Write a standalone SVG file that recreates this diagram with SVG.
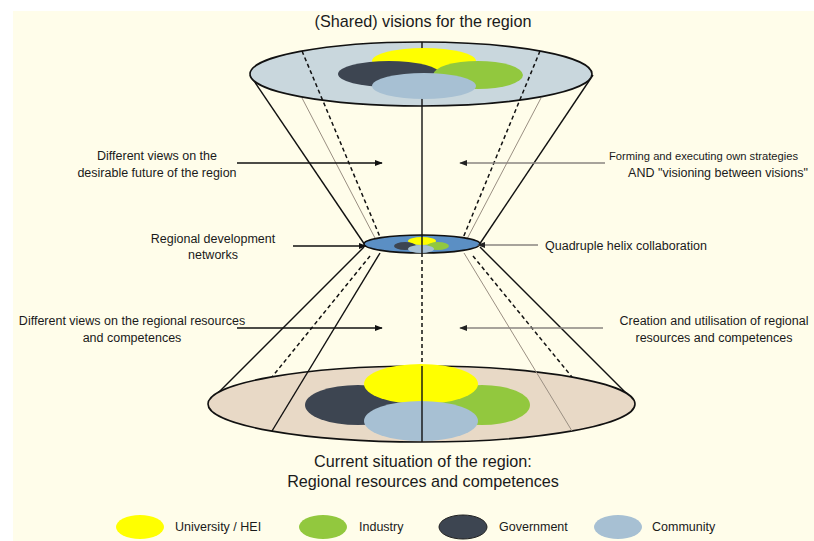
<svg xmlns="http://www.w3.org/2000/svg" width="814" height="541" viewBox="0 0 814 541">
  <defs>
    <marker id="headDark" viewBox="0 0 10 10" refX="9" refY="5" markerWidth="8" markerHeight="8" markerUnits="userSpaceOnUse" orient="auto">
      <path d="M0,1 L10,5 L0,9 Z" fill="#111"/>
    </marker>
    <marker id="headGray" viewBox="0 0 10 10" refX="9" refY="5" markerWidth="8" markerHeight="8" markerUnits="userSpaceOnUse" orient="auto">
      <path d="M0,1 L10,5 L0,9 Z" fill="#222"/>
    </marker>
    <style>
      .lbl { font-family: "Liberation Sans", Arial, sans-serif; font-size: 12.5px; fill: #1a1a1a; }
      .big { font-family: "Liberation Sans", Arial, sans-serif; font-size: 16.2px; fill: #1a1a1a; }
      .edge { stroke: #111; stroke-width: 1.4; fill: none; }
      .thin { stroke: #9a8f82; stroke-width: 1; fill: none; }
      .dash { stroke: #111; stroke-width: 1.5; stroke-dasharray: 4 3; fill: none; }
      .rim { stroke: #111; stroke-width: 1.6; }
      .uni { fill: #ffff00; }
      .ind { fill: #92c83e; }
      .gov { fill: #3d4551; }
      .com { fill: #a7c0d3; }
      .arrowDark { stroke: #111; stroke-width: 1.5; marker-end: url(#headDark); }
      .arrowGray { stroke: #8a8580; stroke-width: 1.5; marker-end: url(#headGray); }
    </style>
  </defs>

  <!-- page -->
  <rect x="0" y="0" width="814" height="541" fill="#ffffff"/>
  <rect x="13" y="11" width="801" height="530" fill="#fffdea"/>

  <text class="big" x="423" y="27" text-anchor="middle">(Shared) visions for the region</text>

  <!-- cone walls -->
  <g id="connectors">
    <!-- upper cone -->
    <line class="edge" x1="250" y1="75" x2="365" y2="245"/>
    <line class="edge" x1="593" y1="75" x2="479" y2="245"/>
    <line class="thin" x1="302" y1="98" x2="375" y2="238"/>
    <line class="thin" x1="541" y1="98" x2="467" y2="239"/>
    <!-- lower cone -->
    <line class="edge" x1="364" y1="247" x2="210" y2="401"/>
    <line class="edge" x1="480" y1="247" x2="634" y2="401"/>
    <line class="dash" x1="370" y1="256" x2="272" y2="377"/>
    <line class="dash" x1="473" y1="256" x2="572" y2="377"/>
    <!-- central axis, lower cone -->
    <line class="dash" x1="422" y1="253" x2="422" y2="366"/>
  </g>

  <!-- top: shared visions -->
  <g id="top-disc">
    <ellipse cx="421" cy="74" rx="171" ry="32" fill="#c9d7dd" class="rim"/>
    <line class="edge" x1="422" y1="42" x2="422" y2="236"/>
    <line class="dash" x1="302" y1="51" x2="380" y2="237"/>
    <line class="dash" x1="540" y1="51" x2="463" y2="238"/>
    <ellipse class="uni" cx="424" cy="61" rx="52" ry="13"/>
    <ellipse class="gov" cx="389" cy="74" rx="51" ry="13"/>
    <ellipse class="ind" cx="478" cy="75" rx="45" ry="14"/>
    <ellipse class="com" cx="424" cy="86" rx="52" ry="13"/>
  </g>

  <!-- bottom: current situation -->
  <g id="bottom-disc">
    <ellipse cx="421.5" cy="404" rx="213.5" ry="38" fill="#e8d9c6" class="rim"/>
    <ellipse class="gov" cx="358" cy="405" rx="53" ry="20"/>
    <ellipse class="ind" cx="482" cy="405" rx="48" ry="20"/>
    <ellipse class="uni" cx="421" cy="384" rx="57" ry="20"/>
    <ellipse class="com" cx="421" cy="421" rx="57" ry="20"/>
    <line class="edge" x1="380" y1="253" x2="272" y2="431"/>
    <line class="thin" x1="464" y1="253" x2="572" y2="431"/>
    <line class="edge" x1="422" y1="366" x2="422" y2="442"/>
  </g>

  <!-- waist: quadruple helix -->
  <g id="waist-disc">
    <ellipse cx="422" cy="244" rx="58" ry="9" fill="#5b8fc4" class="rim"/>
    <ellipse class="uni" cx="422" cy="241" rx="14" ry="4"/>
    <ellipse class="gov" cx="405" cy="246" rx="11" ry="4"/>
    <ellipse class="ind" cx="438" cy="246" rx="11" ry="4"/>
    <ellipse class="com" cx="421" cy="249" rx="13" ry="4"/>
    <line class="edge" x1="422" y1="235" x2="422" y2="253"/>
  </g>

  <!-- side annotations -->
  <g id="label-future">
    <text class="lbl" x="157" y="160" text-anchor="middle">Different views on the</text>
    <text class="lbl" x="157" y="177" text-anchor="middle">desirable future of the region</text>
    <line class="arrowDark" x1="237" y1="163" x2="382" y2="163"/>
  </g>
  <g id="label-strategies">
    <text class="lbl" x="609" y="160" style="font-size:11.2px">Forming and executing own strategies</text>
    <text class="lbl" x="718" y="177" text-anchor="middle">AND "visioning between visions"</text>
    <line class="arrowGray" x1="605" y1="163" x2="460" y2="163"/>
  </g>
  <g id="label-networks">
    <text class="lbl" x="213" y="243" text-anchor="middle">Regional development</text>
    <text class="lbl" x="213" y="259" text-anchor="middle">networks</text>
    <line class="arrowDark" x1="293" y1="246" x2="366" y2="246"/>
  </g>
  <g id="label-helix">
    <text class="lbl" x="545" y="250">Quadruple helix collaboration</text>
    <line class="arrowGray" x1="538" y1="245" x2="478" y2="245"/>
  </g>
  <g id="label-resources">
    <text class="lbl" x="132" y="325" text-anchor="middle">Different views on the regional resources</text>
    <text class="lbl" x="132" y="342" text-anchor="middle">and competences</text>
    <line class="arrowDark" x1="237" y1="328" x2="382" y2="328"/>
  </g>
  <g id="label-creation">
    <text class="lbl" x="714" y="325" text-anchor="middle">Creation and utilisation of regional</text>
    <text class="lbl" x="714" y="342" text-anchor="middle">resources and competences</text>
    <line class="arrowGray" x1="603" y1="328" x2="460" y2="328"/>
  </g>

  <text class="big" x="423" y="467" text-anchor="middle">Current situation of the region:</text>
  <text class="big" x="423" y="487" text-anchor="middle">Regional resources and competences</text>

  <!-- legend -->
  <g id="legend">
    <ellipse class="uni" cx="140" cy="527" rx="24" ry="12"/>
    <text class="lbl" x="175" y="531">University / HEI</text>
    <ellipse class="ind" cx="323" cy="527" rx="24" ry="12"/>
    <text class="lbl" x="359" y="531">Industry</text>
    <ellipse cx="463" cy="527" rx="24" ry="12" fill="#3d4551" stroke="#222" stroke-width="1"/>
    <text class="lbl" x="499" y="531">Government</text>
    <ellipse class="com" cx="618" cy="527" rx="24" ry="12"/>
    <text class="lbl" x="652" y="531">Community</text>
  </g>
</svg>
